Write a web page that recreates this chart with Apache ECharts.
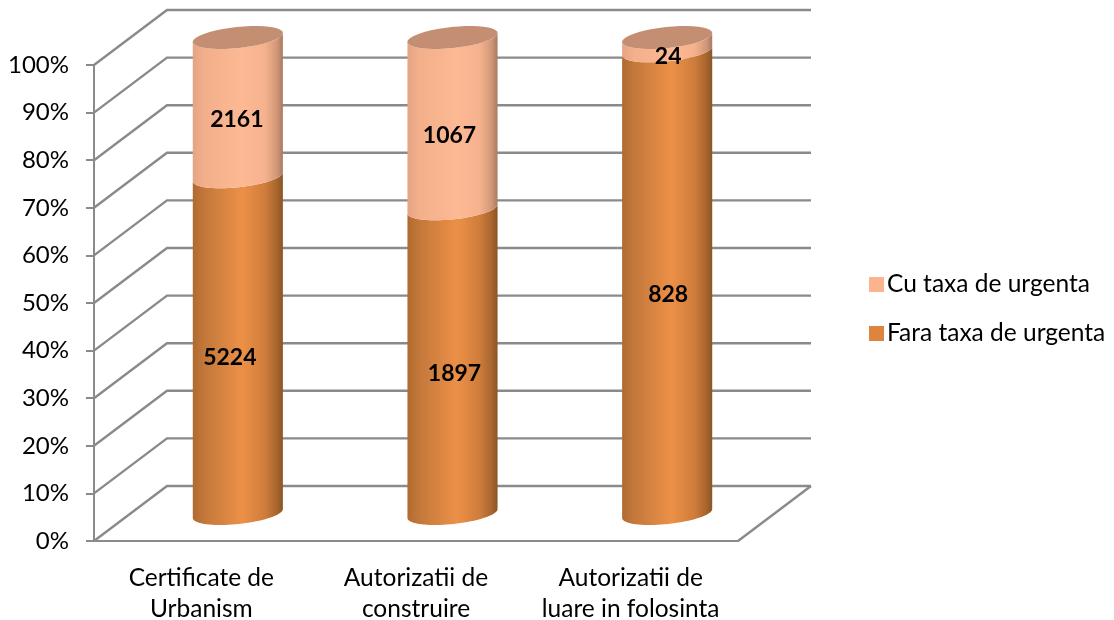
<!DOCTYPE html>
<html><head><meta charset="utf-8">
<style>html,body{margin:0;padding:0;background:#fff}#c{width:1114px;height:620px}</style>
<script src="https://cdn.jsdelivr.net/npm/echarts@6/dist/echarts.min.js"></script>
</head><body><div id="c"></div>
<script>
var categories = ['Certificate de\nUrbanism', 'Autorizatii de\nconstruire', 'Autorizatii de\nluare in folosinta'];
var faraValues = [5224, 1897, 828];
var cuValues = [2161, 1067, 24];
var percentTicks = [0, 10, 20, 30, 40, 50, 60, 70, 80, 90, 100];
var faraName = 'Fara taxa de urgenta';
var cuName = 'Cu taxa de urgenta';

var FONT = 'Lato, Carlito, "Open Sans", sans-serif';
var GRID = '#8a8a8a';
var DEPTH_X = 73, DEPTH_Y = -55;
var RX = 45.3, RY = 10.5, TILT = -6 * Math.PI / 180;
var faraNudge = [-8, 2, 1], cuNudge = [-1, -3, 1];

var faraStops = [[0, '#b06a2f'], [0.12, '#c2773a'], [0.55, '#ec9047'], [0.8, '#cf7d3b'], [0.93, '#a9662e'], [1, '#8a5428']];
var cuStops = [[0, '#e3a584'], [0.12, '#f3ae8a'], [0.55, '#fdb994'], [0.8, '#f6b28e'], [0.93, '#d39878'], [1, '#a97a62']];
var capColor = '#c48e72';

function ellipsePoint(cx, cy, t) {
  return [
    cx + RX * Math.cos(t) * Math.cos(TILT) - RY * Math.sin(t) * Math.sin(TILT),
    cy + RX * Math.cos(t) * Math.sin(TILT) + RY * Math.sin(t) * Math.cos(TILT)
  ];
}
function arc(cx, cy, from, to) {
  var pts = [], n = 40;
  for (var i = 0; i <= n; i++) pts.push(ellipsePoint(cx, cy, from + (to - from) * i / n));
  return pts;
}
function gradient(stops) {
  return new echarts.graphic.LinearGradient(0, 0, 1, 0, stops.map(function (s) {
    return { offset: s[0], color: s[1] };
  }));
}
function rowsFor(values, lowerValues) {
  return values.map(function (v, i) {
    var total = faraValues[i] + cuValues[i];
    var low = lowerValues ? lowerValues[i] : 0;
    return [i, low / total * 100, (low + v) / total * 100, v];
  });
}
function cylinderItem(stops, nudge, isTop) {
  return function (params, api) {
    var cat = api.value(0);
    var a = api.coord([cat, api.value(1)]);
    var b = api.coord([cat, api.value(2)]);
    var cx = a[0] + DEPTH_X / 2;
    var y0 = a[1] + DEPTH_Y / 2, y1 = b[1] + DEPTH_Y / 2;
    var lower = arc(cx, y0, Math.PI, 0);
    var upper = arc(cx, y1, 0, Math.PI);
    var children = [{
      type: 'polygon',
      shape: { points: lower.concat(upper) },
      style: { fill: gradient(stops) }
    }];
    if (isTop) {
      children.push({
        type: 'polygon',
        shape: { points: arc(cx, y1, 0, Math.PI * 2) },
        style: { fill: capColor }
      });
    }
    children.push({
      type: 'text',
      z2: 50,
      style: {
        x: cx + nudge[cat],
        y: (y0 + y1) / 2 + RY + 2,
        text: String(api.value(3)),
        fill: '#000',
        font: 'bold 23px ' + FONT,
        align: 'center',
        verticalAlign: 'middle'
      }
    });
    return { type: 'group', children: children };
  };
}
function wallItem(params, api) {
  var r = params.coordSys;
  var v = api.value(0);
  var y = api.coord([0, v])[1];
  var style = { stroke: GRID, lineWidth: 2.4, fill: null };
  var children = [{
    type: 'polyline',
    shape: { points: [[r.x, y], [r.x + DEPTH_X, y + DEPTH_Y], [r.x + r.width + DEPTH_X, y + DEPTH_Y]] },
    style: style
  }];
  if (v === 0) {
    children.push({
      type: 'line',
      shape: { x1: r.x + r.width, y1: y, x2: r.x + r.width + DEPTH_X, y2: y + DEPTH_Y },
      style: style
    });
  }
  return { type: 'group', children: children };
}

var chart = echarts.init(document.getElementById('c'), null, { renderer: 'canvas' });
chart.setOption({
  animation: false,
  backgroundColor: '#fff',
  grid: { left: 94, right: 376, top: 65, bottom: 79, containLabel: false, outerBoundsMode: 'none' },
  legend: {
    orient: 'vertical', left: 864, top: 267, itemWidth: 15, itemHeight: 15, itemGap: 24,
    icon: 'rect', data: [cuName, faraName],
    textStyle: { fontFamily: FONT, fontSize: 24.5, color: '#000', padding: [4, 0, 0, -2] }
  },
  xAxis: {
    type: 'category', data: categories,
    axisLine: { lineStyle: { color: GRID, width: 2 } },
    axisTick: { alignWithLabel: false, length: 8, lineStyle: { color: GRID, width: 2 } },
    axisLabel: { fontFamily: FONT, fontSize: 24.5, color: '#000', lineHeight: 31, margin: 21.5, interval: 0 }
  },
  yAxis: {
    type: 'value', min: 0, max: 100, interval: 10,
    axisLine: { show: true, lineStyle: { color: GRID, width: 2 } },
    axisTick: { show: true, length: 8, lineStyle: { color: GRID, width: 2 } },
    splitLine: { show: false },
    axisLabel: { formatter: '{value}%', fontFamily: FONT, fontSize: 24, color: '#000', margin: 25, padding: [8, 0, 0, 0] }
  },
  series: [
    { type: 'custom', coordinateSystem: 'cartesian2d', silent: true, clip: false, z: 1,
      data: percentTicks.map(function (t) { return [t]; }),
      encode: { y: 0 }, renderItem: wallItem },
    { type: 'custom', name: faraName, coordinateSystem: 'cartesian2d', clip: false, z: 3,
      itemStyle: { color: '#dd843f' },
      data: rowsFor(faraValues), encode: { x: 0, y: [1, 2] },
      renderItem: cylinderItem(faraStops, faraNudge, false) },
    { type: 'custom', name: cuName, coordinateSystem: 'cartesian2d', clip: false, z: 4,
      itemStyle: { color: '#fbb48e' },
      data: rowsFor(cuValues, faraValues), encode: { x: 0, y: [1, 2] },
      renderItem: cylinderItem(cuStops, cuNudge, true) }
  ]
});
</script></body></html>
